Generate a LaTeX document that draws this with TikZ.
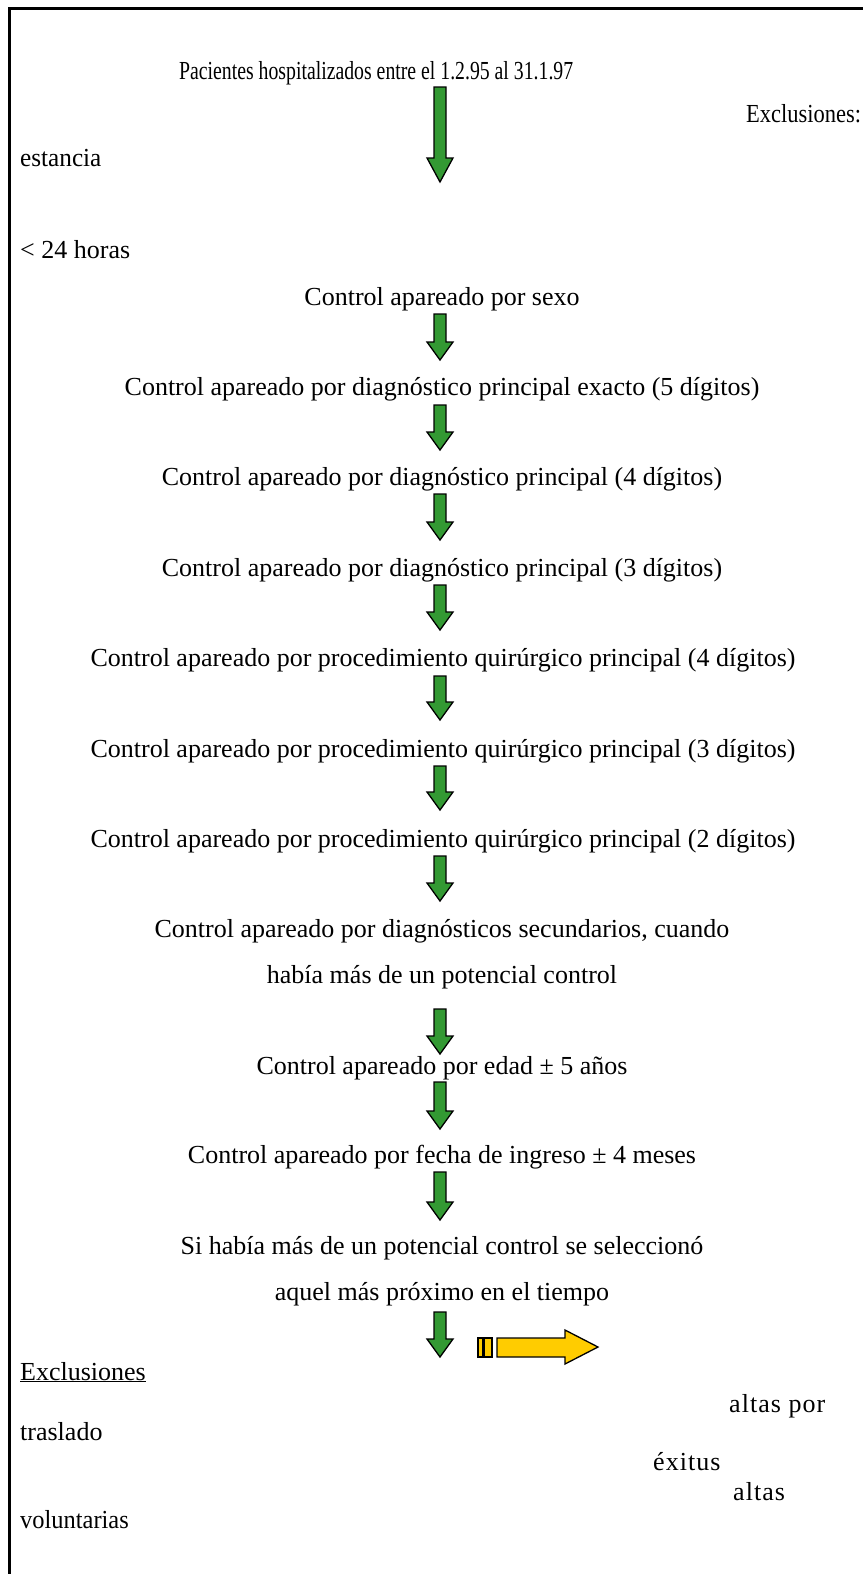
\documentclass[tikz,border=0pt]{standalone}
\usepackage{fontspec}
\setmainfont{Liberation Serif}
\usepackage{tikz}

\definecolor{verde}{RGB}{51,153,51}
\definecolor{amarillo}{RGB}{255,204,0}

% flecha verde: #1 = arriba, #2 = punta, #3 = largo de la cabeza
\newcommand{\flechaverde}[3]{%
  \filldraw[flechav] (434,#1) -- (446,#1) -- (446,{#2-#3}) -- (453,{#2-#3})
    -- (440,#2) -- (427,{#2-#3}) -- (434,{#2-#3}) -- cycle;}

\begin{document}
\begin{tikzpicture}[
  x=1pt, y=-1pt,
  texto/.style={font=\fontsize{26}{31}\selectfont, inner sep=0pt, anchor=base},
  izq/.style={texto, anchor=base west},
  espaciado/.style={izq, font=\fontsize{26}{31}\selectfont\addfontfeature{LetterSpace=4}},
  flechav/.style={fill=verde, draw=black, line width=1.3pt, line join=miter},
  flechaa/.style={fill=amarillo, draw=black, line width=1.3pt}
]
\useasboundingbox (0,0) rectangle (862,1574);
\draw[line width=3pt] (9.5,1580) -- (9.5,8.5) -- (870,8.5);

% cabecera y exclusiones iniciales
\node[izq, xscale=0.76, transform shape] (pacientes) at (179,79)
  {Pacientes hospitalizados entre el 1.2.95 al 31.1.97};
\node[izq, xscale=0.865, transform shape] (exclusiones) at (746,122.5) {Exclusiones:};
\node[izq, xscale=0.97, transform shape] (estancia) at (20,166.5) {estancia};
\node[izq] (horas) at (20,258) {< 24 horas};
\flechaverde{87}{182}{24}

% pasos del apareamiento
\node[texto] (sexo)   at (442,305)   {Control apareado por sexo};
\node[texto] (diag5)  at (442,395.5) {Control apareado por diagnóstico principal exacto (5 dígitos)};
\node[texto] (diag4)  at (442,485)   {Control apareado por diagnóstico principal (4 dígitos)};
\node[texto] (diag3)  at (442,576)   {Control apareado por diagnóstico principal (3 dígitos)};
\node[texto] (proc4)  at (443,666.5) {Control apareado por procedimiento quirúrgico principal (4 dígitos)};
\node[texto] (proc3)  at (443,757)   {Control apareado por procedimiento quirúrgico principal (3 dígitos)};
\node[texto] (proc2)  at (443,847)   {Control apareado por procedimiento quirúrgico principal (2 dígitos)};
\node[texto] (secun)  at (442,937.5) {Control apareado por diagnósticos secundarios, cuando};
\node[texto] (secunb) at (442,983)   {había más de un potencial control};
\node[texto] (edad)   at (442,1074)  {Control apareado por edad ± 5 años};
\node[texto] (fecha)  at (442,1163.5){Control apareado por fecha de ingreso ± 4 meses};
\node[texto] (tiempo) at (442,1254)  {Si había más de un potencial control se seleccionó};
\node[texto] (tiempob)at (442,1300)  {aquel más próximo en el tiempo};

\flechaverde{314}{360}{18}
\flechaverde{405}{450}{18}
\flechaverde{494}{540}{18}
\flechaverde{585}{630}{18}
\flechaverde{676}{720}{18}
\flechaverde{766}{810}{18}
\flechaverde{856}{901}{18}
\flechaverde{1009}{1054}{18}
\flechaverde{1082}{1129}{18}
\flechaverde{1172}{1220}{18}
\flechaverde{1312}{1357}{18}

% flecha amarilla
\filldraw[flechaa] (478,1338) rectangle (483,1357);
\filldraw[flechaa] (484,1338) rectangle (492,1357);
\filldraw[flechaa] (497,1338) -- (565,1338) -- (565,1330) -- (598,1347)
  -- (565,1364) -- (565,1357) -- (497,1357) -- cycle;

% exclusiones finales
\node[izq] (exclu) at (20,1380) {\underline{Exclusiones}};
\node[espaciado] (altaspor) at (729,1412) {altas por};
\node[izq] (traslado) at (20,1440.5) {traslado};
\node[espaciado] (exitus) at (653,1470.5) {éxitus};
\node[espaciado] (altas) at (733,1500.5) {altas};
\node[izq, xscale=0.94, transform shape] (volunt) at (20,1528) {voluntarias};
\end{tikzpicture}
\end{document}
